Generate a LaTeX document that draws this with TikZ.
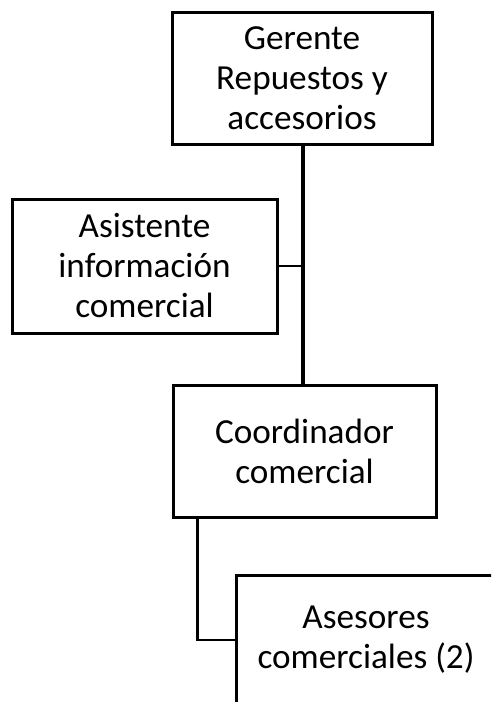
\documentclass[tikz,border=0pt]{standalone}
\usepackage{fontspec}
\setmainfont{Carlito}
\begin{document}
\begin{tikzpicture}[x=1pt,y=-1pt,
  box/.style={draw=black,line width=3pt,fill=white,align=center,inner sep=0pt,
    font=\fontsize{35.2}{40}\selectfont},
  conn/.style={draw=black,line width=2.6pt}]
\useasboundingbox (0,0) rectangle (491,702);
\clip (0,0) rectangle (491,702);
\node[box,minimum width=260pt,minimum height=132pt] (g) at (302,78) {Gerente\\Repuestos y\\accesorios};
\node[box,minimum width=265pt,minimum height=134pt] (a) at (144.5,266) {Asistente\\información\\comercial};
\node[box,minimum width=263pt,minimum height=132pt] (c) at (304.5,451) {Coordinador\\comercial};
\node[box,minimum width=260pt,minimum height=130pt] (s) at (366,640) {Asesores\\comerciales (2)};
\draw[conn,line width=3.2pt] (g.south -| 303,0) -- (c.north -| 303,0);
\draw[conn] (a.east) -- (a.east -| 303,0);
\draw[conn] ([xshift=26pt]c.south west) |- (s.west);
\end{tikzpicture}
\end{document}
